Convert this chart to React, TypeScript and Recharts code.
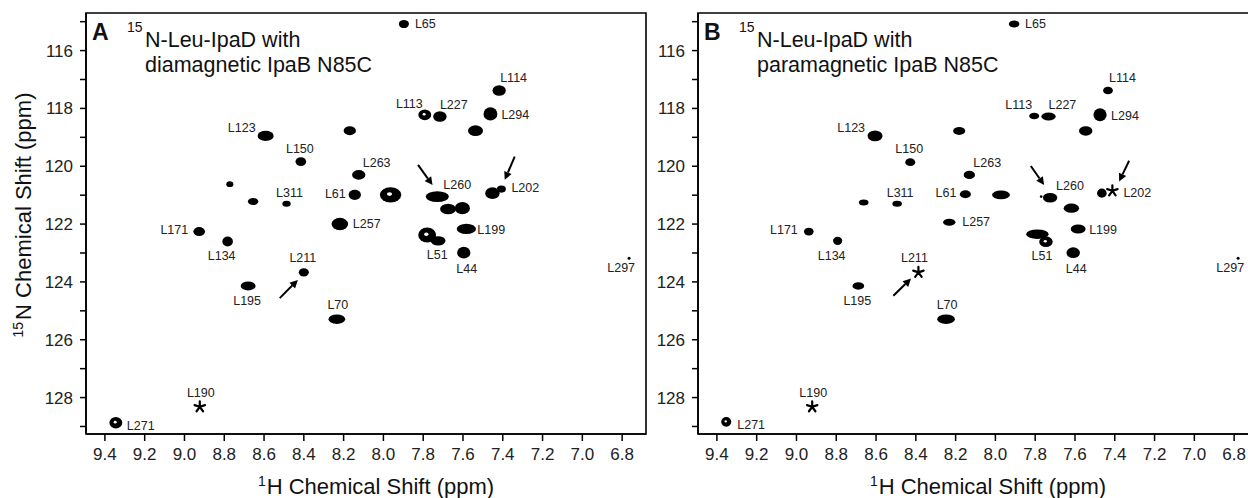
import React from 'react';
import { ScatterChart, Scatter, XAxis, YAxis, ZAxis, ReferenceArea, ReferenceLine } from 'recharts';

const FONT = '"Liberation Sans", Arial, Helvetica, sans-serif';

// ---- panel A: diamagnetic IpaB N85C ----
const peakLabelsA = ['L65', 'L123', 'L150', '', '', 'L311', 'L171', 'L134', 'L211', 'L195', 'L271', 'L70', 'L44', 'L297', 'L114', 'L113', 'L227', 'L294', '', '', 'L263', 'L61', '', 'L260', 'L202', '', '', '', 'L257', 'L199', 'L51', ''];
const hShiftA = [7.897, 8.592, 8.415, 8.772, 8.655, 8.487, 8.926, 8.783, 8.4, 8.68, 9.345, 8.234, 7.596, 6.765, 7.418, 7.792, 7.716, 7.462, 7.537, 8.169, 8.124, 8.144, 7.964, 7.729, 7.452, 7.407, 7.675, 7.603, 8.219, 7.583, 7.78, 7.725];
const nShiftA = [115.08, 118.95, 119.84, 120.62, 121.22, 121.3, 122.26, 122.6, 123.67, 124.14, 128.87, 125.29, 122.99, 123.18, 117.38, 118.22, 118.28, 118.19, 118.77, 118.77, 120.3, 120.99, 120.99, 121.05, 120.93, 120.79, 121.48, 121.45, 122.0, 122.17, 122.38, 122.58];
const intensityA = [18, 35, 20, 9, 16, 11, 23, 23, 18, 29, 32, 35, 34, 2, 31, 30, 31, 40, 35, 24, 28, 27, 70, 54, 37, 14, 37, 40, 45, 43, 58, 30];
const aspectA = [1.24, 1.6, 1.25, 1.2, 1.5, 1.4, 1.3, 1.06, 1.24, 1.67, 1.13, 1.73, 1.13, 1, 1.24, 1.2, 1.26, 1.05, 1.4, 1.38, 1.38, 1.23, 1.43, 2.16, 1.22, 1.27, 1.5, 1.23, 1.33, 1.88, 1.2, 1.6];
const ringA = [10, 15, 22, 30];

const starLabelsA = ['L190'];
const starHA = [8.923];
const starNA = [128.32];

const arrowTailHA = [8.521, 7.826, 7.34];
const arrowTailNA = [124.56, 119.95, 119.67];
const arrowHeadHA = [8.43, 7.753, 7.39];
const arrowHeadNA = [123.93, 120.65, 120.47];

// ---- panel B: paramagnetic IpaB N85C ----
const peakLabelsB = ['L65', 'L123', 'L150', '', 'L311', 'L171', 'L134', 'L195', 'L271', 'L70', 'L44', 'L297', 'L114', 'L113', 'L227', 'L294', '', '', 'L263', 'L61', '', 'L260', '', '', 'L257', 'L199', '', 'L51', ''];
const hShiftB = [7.906, 8.605, 8.428, 8.662, 8.494, 8.938, 8.793, 8.689, 9.353, 8.248, 7.609, 6.78, 7.434, 7.805, 7.733, 7.474, 7.546, 8.182, 8.131, 8.151, 7.972, 7.725, 7.465, 7.618, 8.232, 7.584, 7.789, 7.746, 7.77];
const nShiftB = [115.08, 118.95, 119.86, 121.25, 121.3, 122.26, 122.58, 124.14, 128.84, 125.29, 122.99, 123.18, 117.38, 118.26, 118.28, 118.22, 118.78, 118.78, 120.3, 120.97, 120.99, 121.09, 120.93, 121.45, 121.94, 122.17, 122.35, 122.61, 121.05];
const intensityB = [16.5, 35, 17, 12.6, 12.6, 16.6, 16.3, 19, 21, 37, 31.5, 2, 16, 14, 25, 37, 28, 21, 20, 19, 35, 30, 19, 31, 19, 29, 47, 31.5, 1.5];
const aspectB = [1.5, 1.4, 1.27, 1.6, 1.6, 1.22, 1.13, 1.57, 1.05, 1.84, 1.26, 1, 1.3, 1.57, 1.8, 1.03, 1.4, 1.54, 1.4, 1.4, 2.0, 1.5, 1.05, 1.67, 1.76, 1.67, 2.33, 1.26, 1];
const ringB = [8, 27];

const starLabelsB = ['L190', 'L211', 'L202'];
const starHB = [8.921, 8.387, 7.412];
const starNB = [128.32, 123.67, 120.85];

const arrowTailHB = [8.513, 7.822, 7.328];
const arrowTailNB = [124.48, 119.99, 119.81];
const arrowHeadHB = [8.424, 7.755, 7.378];
const arrowHeadNB = [123.88, 120.65, 120.53];

// axes
const hDomain = [6.68, 9.495];
const nDomain = [114.7, 129.26];
const hTicks = [9.4, 9.2, 9.0, 8.8, 8.6, 8.4, 8.2, 8.0, 7.8, 7.6, 7.4, 7.2, 7.0, 6.8];
const nTicks = [115, 116, 117, 118, 119, 120, 121, 122, 123, 124, 125, 126, 127, 128, 129];

type Anchor = 'start' | 'middle' | 'end';
// label placement around each peak: [dx, dy, anchor]
const labelOffsets: Record<string, [number, number, Anchor]> = {
  L65: [11, 0, 'start'], L123: [-10, -8, 'end'], L150: [-1, -13, 'middle'], L311: [3, -11, 'middle'],
  L171: [-11, -2, 'end'], L134: [-6, 15, 'middle'], L211: [-1, -14, 'middle'], L195: [-1, 15, 'middle'],
  L271: [11, 3, 'start'], L70: [1, -14, 'middle'], L51: [10, 20, 'middle'], L44: [3, 16, 'middle'],
  L297: [6, 10, 'end'], L114: [1, -12, 'start'], L113: [-2, -11, 'end'], L227: [0, -12, 'start'],
  L294: [11, 1, 'start'], L263: [4, -12, 'start'], L61: [-9, -1, 'end'], L260: [6, -12, 'start'],
  L202: [19, -5, 'start'], L257: [13, 0, 'start'], L199: [11, 1, 'start'], L190: [1, -14, 'middle'],
};
const labelOffsetsB: Record<string, [number, number, Anchor]> = {
  ...labelOffsets,
  L51: [-4, 14, 'middle'],
  L202: [11, 2, 'start'],
  L211: [-4, -14, 'middle'],
};

const buildPeaks = (labels: string[], h: number[], n: number[], vol: number[], aspect: number[], rings: number[]) =>
  labels.map((label, i) => ({ label, h: h[i], n: n[i], vol: vol[i], aspect: aspect[i], ring: rings.includes(i) }));

const buildStars = (labels: string[], h: number[], n: number[]) =>
  labels.map((label, i) => ({ label, h: h[i], n: n[i] }));

const buildArrows = (th: number[], tn: number[], hh: number[], hn: number[]) =>
  th.map((_, i) => [{ x: th[i], y: tn[i] }, { x: hh[i], y: hn[i] }]);

const PeakLabel = ({ x, y, text, offsets }: any) => {
  const off = offsets[text];
  if (!text || !off) return null;
  return (
    <text x={x + off[0]} y={y + off[1]} textAnchor={off[2]} dominantBaseline="central"
      fontSize={12.5} fontFamily={FONT} fill="#222">{text}</text>
  );
};

const PeakShape = (props: any) => {
  const { cx, cy, payload, offsets } = props;
  const r = props.width != null ? props.width / 2 : Math.sqrt((props.size || 0) / Math.PI);
  const k = Math.sqrt(payload.aspect || 1);
  const rx = Math.max(r * k, 1);
  const ry = Math.max(r / k, 1);
  return (
    <g>
      <ellipse cx={cx} cy={cy} rx={rx} ry={ry} fill="#000" />
      {payload.ring && <ellipse cx={cx - rx * 0.1} cy={cy - ry * 0.1} rx={rx * 0.24} ry={ry * 0.24} fill="#fff" />}
      <PeakLabel x={cx} y={cy} text={payload.label} offsets={offsets} />
    </g>
  );
};

const StarShape = (props: any) => {
  const { cx, cy, payload, offsets } = props;
  const arms = [0, 1, 2, 3, 4].map((k) => {
    const a = (-90 + 72 * k) * Math.PI / 180;
    return `M${cx},${cy}L${cx + 5.5 * Math.cos(a)},${cy + 5.5 * Math.sin(a)}`;
  }).join('');
  return (
    <g>
      <path d={arms} stroke="#000" strokeWidth={2.2} strokeLinecap="round" fill="none" />
      <PeakLabel x={cx} y={cy} text={payload.label} offsets={offsets} />
    </g>
  );
};

const ArrowShape = (props: any) => {
  const { x1, y1, x2, y2 } = props;
  const dx = x2 - x1;
  const dy = y2 - y1;
  const len = Math.hypot(dx, dy) || 1;
  const ux = dx / len;
  const uy = dy / len;
  const hl = 8;
  const hw = 4;
  const bx = x2 - ux * hl;
  const by = y2 - uy * hl;
  return (
    <g>
      <line x1={x1} y1={y1} x2={bx} y2={by} stroke="#000" strokeWidth={2} />
      <polygon points={`${x2},${y2} ${bx - uy * hw},${by + ux * hw} ${bx + uy * hw},${by - ux * hw}`} fill="#000" />
    </g>
  );
};

interface PanelProps {
  left: number;
  letter: string;
  line1: string;
  line2: string;
  peaks: any[];
  stars: any[];
  arrows: { x: number; y: number }[][];
  offsets: Record<string, [number, number, Anchor]>;
  showYTitle?: boolean;
}

const W = 660;
const H = 498;

const Panel: React.FC<PanelProps> = ({ left, letter, line1, line2, peaks, stars, arrows, offsets, showYTitle }) => {
  return (
    <div style={{ position: 'absolute', left, top: 0, width: W, height: H }}>
      <ScatterChart width={W} height={H} margin={{ top: 13, right: 14, bottom: 0, left: 0 }}>
        <XAxis
          type="number"
          dataKey="h"
          domain={hDomain}
          reversed
          allowDataOverflow
          ticks={hTicks}
          tickFormatter={(v: number) => v.toFixed(1)}
          height={64}
          tickSize={7}
          tickMargin={7}
          axisLine={{ stroke: '#000', strokeWidth: 1.6 }}
          tickLine={{ stroke: '#000', strokeWidth: 1.5 }}
          tick={{ fontSize: 17, fill: '#222', fontFamily: FONT }}
        />
        <YAxis
          type="number"
          dataKey="n"
          domain={nDomain}
          reversed
          allowDataOverflow
          ticks={nTicks}
          interval={0}
          tickFormatter={(v: number) => (v % 2 === 0 ? String(v) : '')}
          width={86}
          tickSize={6}
          tickMargin={7}
          axisLine={{ stroke: '#000', strokeWidth: 1.6 }}
          tickLine={{ stroke: '#000', strokeWidth: 1.5 }}
          tick={{ fontSize: 17, fill: '#222', fontFamily: FONT }}
        />
        <ZAxis type="number" dataKey="vol" domain={[0, 100]} range={[0, 115 * Math.PI]} />
        <ReferenceArea x1={hDomain[0]} x2={hDomain[1]} y1={nDomain[0]} y2={nDomain[1]}
          fill="none" fillOpacity={0} stroke="#000" strokeWidth={1.6} ifOverflow="visible" />
        <Scatter data={peaks} isAnimationActive={false}
          shape={(p: any) => <PeakShape {...p} offsets={offsets} />} />
        <Scatter data={stars} isAnimationActive={false}
          shape={(p: any) => <StarShape {...p} offsets={offsets} />} />
        {arrows.map((seg, i) => (
          <ReferenceLine key={i} segment={seg} ifOverflow="visible" shape={(p: any) => <ArrowShape {...p} />} />
        ))}
      </ScatterChart>
      <svg width={W} height={H} style={{ position: 'absolute', left: 0, top: 0, pointerEvents: 'none' }}>
        <g fontFamily={FONT} fill="#111">
          <text x={92} y={40} fontSize={23} fontWeight="bold">{letter}</text>
          <text x={127} y={32} fontSize={14}>15</text>
          <text x={145} y={47} fontSize={21.5}>{line1}</text>
          <text x={145} y={72} fontSize={21.5}>{line2}</text>
          <text x={376} y={494} textAnchor="middle" fontSize={22}>
            <tspan fontSize={14} dy={-8}>1</tspan>
            <tspan dy={8} dx={1}>H Chemical Shift (ppm)</tspan>
          </text>
          {showYTitle && (
            <text transform="translate(31,215) rotate(-90)" textAnchor="middle" fontSize={22}>
              <tspan fontSize={14} dy={-8}>15</tspan>
              <tspan dy={8} dx={2}>N Chemical Shift (ppm)</tspan>
            </text>
          )}
        </g>
      </svg>
    </div>
  );
};

export default function App() {
  const peaksA = buildPeaks(peakLabelsA, hShiftA, nShiftA, intensityA, aspectA, ringA);
  const peaksB = buildPeaks(peakLabelsB, hShiftB, nShiftB, intensityB, aspectB, ringB);
  const starsA = buildStars(starLabelsA, starHA, starNA);
  const starsB = buildStars(starLabelsB, starHB, starNB);
  const arrowsA = buildArrows(arrowTailHA, arrowTailNA, arrowHeadHA, arrowHeadNA);
  const arrowsB = buildArrows(arrowTailHB, arrowTailNB, arrowHeadHB, arrowHeadNB);

  return (
    <div style={{ position: 'absolute', left: 0, top: 0, width: 1248, height: 498, overflow: 'hidden', background: '#fff' }}>
      <Panel left={0} letter="A" line1="N-Leu-IpaD with" line2="diamagnetic IpaB N85C"
        peaks={peaksA} stars={starsA} arrows={arrowsA} offsets={labelOffsets} showYTitle />
      <Panel left={612} letter="B" line1="N-Leu-IpaD with" line2="paramagnetic IpaB N85C"
        peaks={peaksB} stars={starsB} arrows={arrowsB} offsets={labelOffsetsB} />
    </div>
  );
}
